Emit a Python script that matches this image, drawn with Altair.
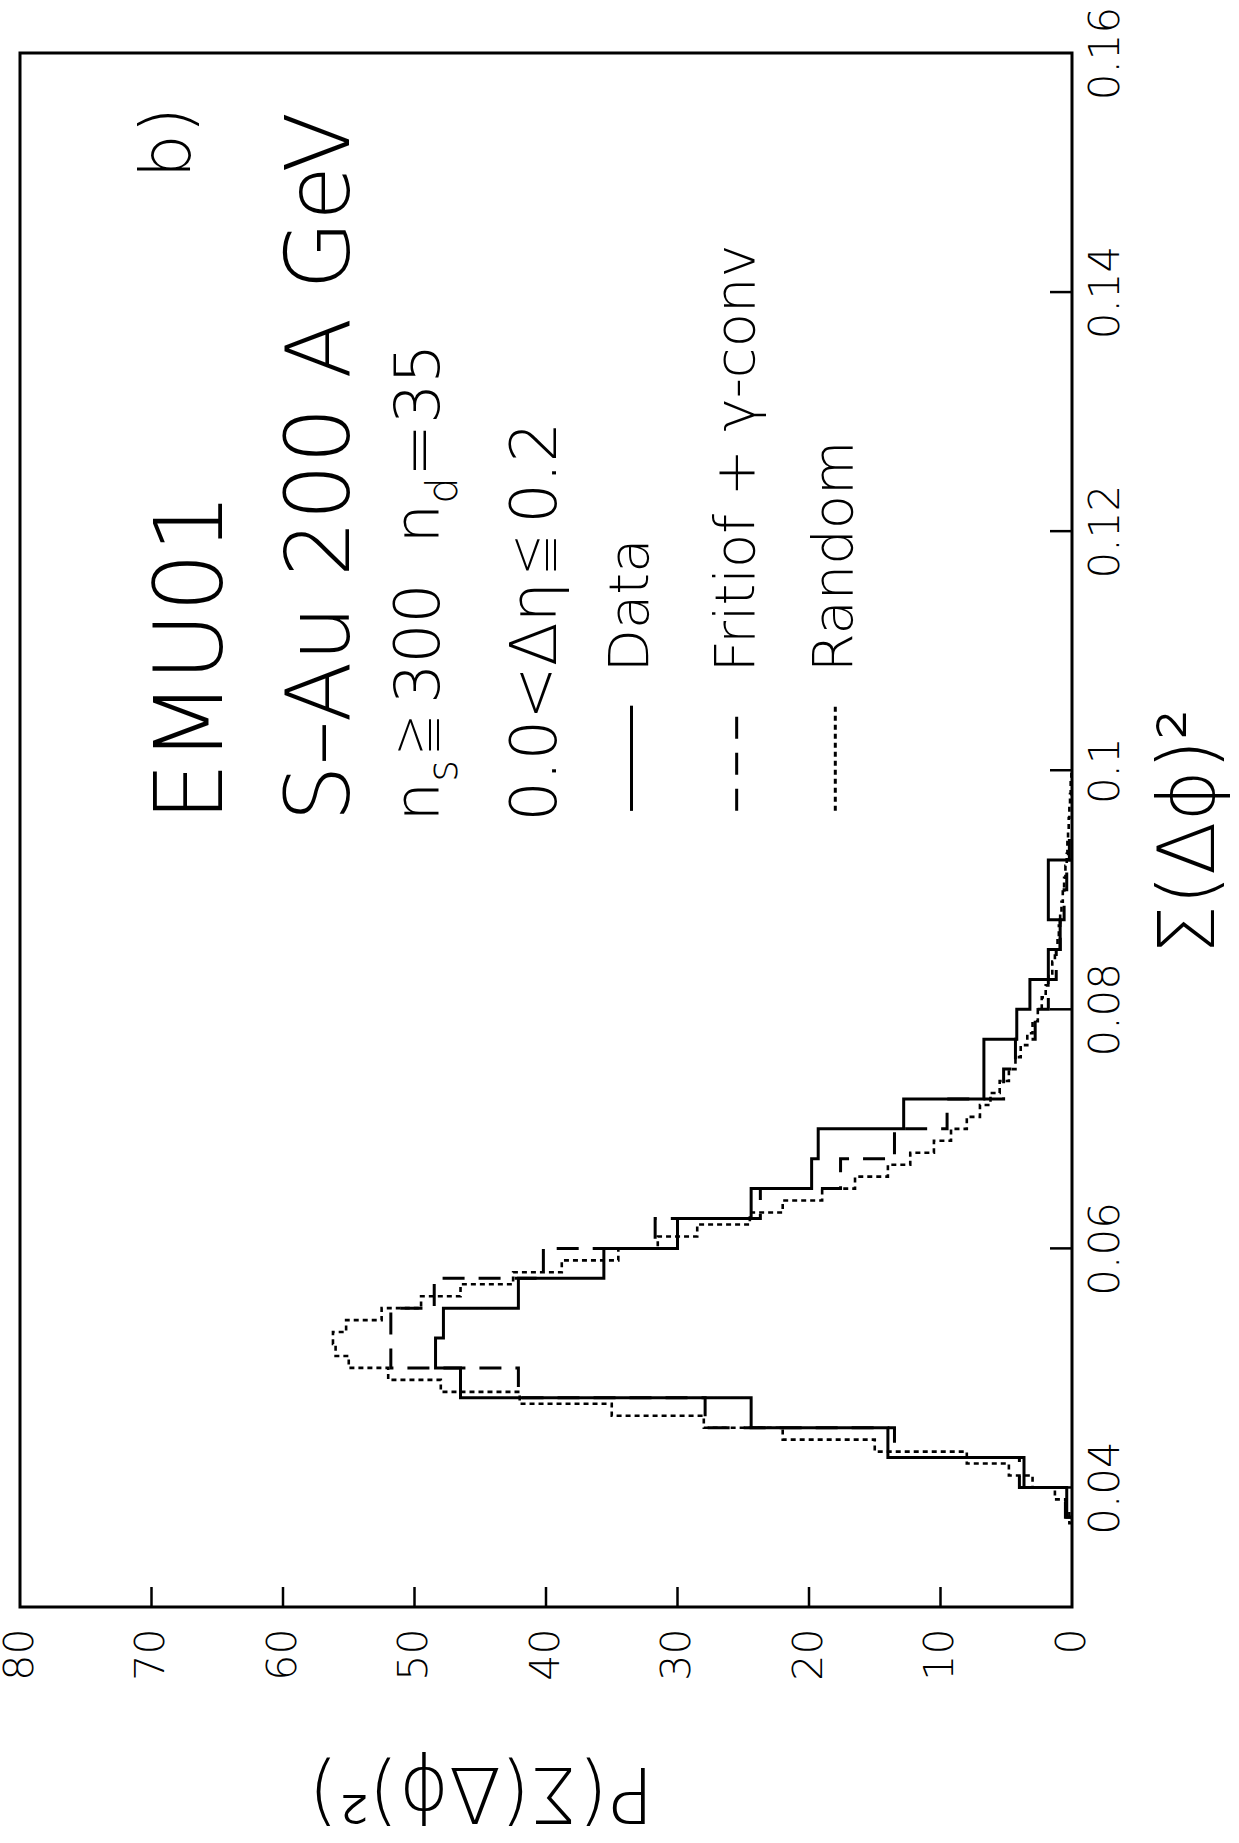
import altair as alt
import pandas as pd

# ---------------- data ----------------
# Data histogram (solid): bin edges in Sum(dphi)^2 and contents P
data_edges = [0.0375, 0.0400, 0.0425, 0.0450, 0.0475, 0.0500, 0.0525, 0.0550,
              0.0575, 0.0600, 0.0625, 0.0650, 0.0675, 0.0700, 0.0725, 0.0750,
              0.0775, 0.0800, 0.0825, 0.0850, 0.0875, 0.0900, 0.0925]
data_vals = [0.4, 3.65, 14.0, 24.4, 46.5, 48.4, 47.8, 42.1, 35.6, 30.0, 24.4,
             19.8, 19.3, 12.8, 6.7, 6.7, 4.2, 3.2, 1.8, 0.9, 1.8, 1.8]

# Fritiof + gamma-conv (dashed)
frit_edges = [0.0375, 0.0400, 0.0425, 0.0450, 0.0475, 0.0500, 0.0525, 0.0550,
              0.0575, 0.0600, 0.0625, 0.0650, 0.0675, 0.0700, 0.0725, 0.0750,
              0.0775, 0.0800, 0.0825, 0.0850, 0.0875, 0.0900, 0.0925, 0.0950]
frit_vals = [0.5, 4.0, 13.5, 27.9, 42.1, 51.8, 51.8, 48.5, 40.2, 31.7, 23.7,
             17.6, 13.5, 9.5, 5.2, 4.3, 2.8, 1.8, 1.2, 0.9, 0.6, 0.4, 0.2]

# Random (dotted, fine bins)
rand_edges = [0.037, 0.038, 0.039, 0.040, 0.041, 0.042, 0.043, 0.044, 0.045,
              0.046, 0.047, 0.048, 0.049, 0.050, 0.051, 0.052, 0.053, 0.054,
              0.055, 0.056, 0.057, 0.058, 0.059, 0.060, 0.061, 0.062, 0.063,
              0.064, 0.065, 0.066, 0.067, 0.068, 0.069, 0.070, 0.071, 0.072,
              0.073, 0.074, 0.075, 0.076, 0.077, 0.078, 0.079, 0.080, 0.081,
              0.082, 0.083, 0.084, 0.085, 0.086, 0.087, 0.088, 0.089, 0.090,
              0.091, 0.092, 0.093, 0.094, 0.095, 0.096, 0.097, 0.098, 0.099,
              0.100]
rand_vals = [0.2, 0.5, 1.3, 3.0, 4.8, 8.0, 15.0, 22.0, 28.0, 35.0, 42.0, 48.0,
             52.0, 55.0, 56.0, 56.2, 55.2, 52.5, 49.5, 46.5, 42.5, 38.8, 34.5,
             31.5, 28.5, 24.5, 22.0, 19.0, 16.5, 14.0, 12.3, 10.5, 9.2, 8.0,
             7.0, 6.2, 5.5, 4.8, 4.3, 3.9, 3.4, 3.0, 2.6, 2.3, 2.0, 1.8, 1.5,
             1.3, 1.1, 1.0, 0.9, 0.8, 0.7, 0.6, 0.5, 0.4, 0.35, 0.3, 0.25, 0.2,
             0.15, 0.1, 0.05]

p_ticks = [0, 10, 20, 30, 40, 50, 60, 70, 80]
s_ticks = [0.04, 0.06, 0.08, 0.10, 0.12, 0.14, 0.16]

FONT = "DejaVu Sans"
FW = 200


def steps(edges, vals):
    rows = [{"P": 0.0, "S": edges[0], "i": 0}]
    k = 1
    for j, v in enumerate(vals):
        rows.append({"P": v, "S": edges[j], "i": k}); k += 1
        rows.append({"P": v, "S": edges[j + 1], "i": k}); k += 1
    rows.append({"P": 0.0, "S": edges[-1], "i": k})
    return pd.DataFrame(rows)


xscale = alt.Scale(domain=[0, 80], reverse=True, nice=False, zero=False)
yscale = alt.Scale(domain=[0.03, 0.16], nice=False, zero=False)

xaxis = alt.Axis(values=p_ticks, labelAngle=270, labelAlign="right",
                 labelBaseline="middle", labelPadding=21, ticks=False,
                 domain=False, grid=False, labelFont=FONT, labelFontSize=41,
                 labelFontWeight=FW,
                 labelColor="black", labelFlush=False, labelOverlap=False,
                 title="P(Σ(Δϕ)²)", titleAngle=180, titleX=461, titleY=183,
                 titleAlign="center", titleBaseline="middle", titleFont=FONT,
                 titleFontSize=76, titleFontWeight=FW, titleColor="black")
yaxis = alt.Axis(orient="right", values=s_ticks, format="~g", labelAngle=270,
                 labelAlign="center", labelBaseline="top", labelPadding=13,
                 ticks=False, domain=False, grid=False, labelFont=FONT,
                 labelFontSize=42, labelFontWeight=FW, labelColor="black",
                 labelFlush=False, labelOverlap=False,
                 title="Σ(Δϕ)²", titleAngle=270, titleX=118, titleY=778,
                 titleAlign="center", titleBaseline="middle", titleFont=FONT,
                 titleFontSize=78, titleFontWeight=FW, titleColor="black")

X = alt.X("P:Q", scale=xscale, axis=xaxis)
Y = alt.Y("S:Q", scale=yscale, axis=yaxis)

W, H = 1052, 1554


def hist_layer(edges, vals, dash, width):
    return alt.Chart(steps(edges, vals)).mark_line(
        color="black", strokeWidth=width, strokeDash=dash, interpolate="linear"
    ).encode(x=X, y=Y, order=alt.Order("i:Q"))


data_layer = hist_layer(data_edges, data_vals, [1, 0], 3)
frit_layer = hist_layer(frit_edges, frit_vals, [22, 14], 3)
rand_layer = hist_layer(rand_edges, rand_vals, [5, 4], 2.6)

# inward ticks
ptick_df = pd.DataFrame({"P": p_ticks[1:-1]})
stick_df = pd.DataFrame({"S": s_ticks[:-1]})
pticks = alt.Chart(ptick_df).mark_rule(color="black", strokeWidth=2.5).encode(
    x=X, y=alt.value(H), y2=alt.value(H - 20))
sticks = alt.Chart(stick_df).mark_rule(color="black", strokeWidth=2.5).encode(
    y=Y, x=alt.value(W), x2=alt.value(W - 22))

# annotation texts (rotated, reading bottom to top)
S0 = 0.0966   # start of legend samples
ST = 0.0957   # start of text lines
ann = [
    # P, S, text, size, align, dx, dy
    (68.7, 0.1525, "b)", 70, "center", 0, 0),
    (66.8, ST, "EMU01", 94, "left", 0, 0),
    (57.0, ST, "S–Au 200 A GeV", 89, "left", 0, 0),
    # n_s >= 300  n_d = 35  (subscripts and a >-over-= sign built from pieces)
    (49.6, ST, "n", 63, "left", 0, 0),
    (49.6, ST, "s", 42, "left", 40, 24),
    (49.6, ST, ">", 50, "left", 66, -9),
    (49.6, ST, "=", 50, "left", 66, 15),
    (49.6, ST, "300", 63, "left", 118, 0),
    (49.6, ST, "n", 63, "left", 278, 0),
    (49.6, ST, "d", 42, "left", 318, 24),
    (49.6, ST, "=35", 63, "left", 345, 0),
    # 0.0 < d-eta <= 0.2
    (40.7, ST, "0.0<Δη", 64, "left", 0, 0),
    (40.7, ST, "<", 50, "left", 246, -9),
    (40.7, ST, "=", 50, "left", 246, 15),
    (40.7, ST, "0.2", 64, "left", 298, 0),
    (33.5, 0.1082, "Data", 56, "left", 0, 0),
    (25.5, 0.1082, "Fritiof + γ-conv", 56, "left", 0, 0),
    (18.0, 0.1082, "Random", 56, "left", 0, 0),
]


def text_layers(rows):
    out = []
    for (p, s, t, fs, al, dx, dy) in rows:
        out.append(alt.Chart(pd.DataFrame([{"P": p, "S": s, "t": t}])).mark_text(
            angle=270, align=al, baseline="middle", font=FONT, fontWeight=FW,
            fontSize=fs, color="black", dx=dx, dy=dy
        ).encode(x=X, y=Y, text="t:N"))
    return out


# legend samples
leg_df = pd.DataFrame({"P": [33.5, 25.5, 18.0], "S": [S0] * 3,
                       "S2": [0.1054] * 3, "k": ["Data", "Fritiof", "Random"]})
leg_data = alt.Chart(leg_df[leg_df.k == "Data"]).mark_rule(
    color="black", strokeWidth=3).encode(x=X, y=Y, y2="S2:Q")
leg_frit = alt.Chart(leg_df[leg_df.k == "Fritiof"]).mark_rule(
    color="black", strokeWidth=3, strokeDash=[22, 14]).encode(x=X, y=Y, y2="S2:Q")
leg_rand = alt.Chart(leg_df[leg_df.k == "Random"]).mark_rule(
    color="black", strokeWidth=3, strokeDash=[5, 4]).encode(x=X, y=Y, y2="S2:Q")

layers = [rand_layer, frit_layer, data_layer, pticks, sticks,
          leg_data, leg_frit, leg_rand] + text_layers(ann)

chart = alt.layer(*layers).properties(
    width=W, height=H,
    padding={"left": 20, "top": 53, "right": 1239 - 20 - W,
             "bottom": 1843 - 53 - H},
    autosize=alt.AutoSizeParams(type="none"),
    background="white",
).configure_view(stroke="black", strokeWidth=3)

chart.save("out.html", embed_options={"renderer": "svg", "actions": False})
